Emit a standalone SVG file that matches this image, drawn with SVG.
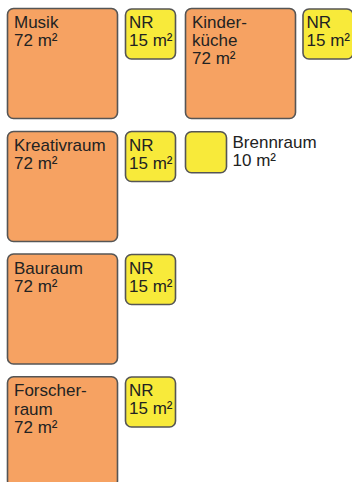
<svg xmlns="http://www.w3.org/2000/svg" width="352" height="482" viewBox="0 0 352 482">
  <style>
    .room { fill: #F6A262; stroke: #555555; stroke-width: 1.6; }
    .side { fill: #F8EA3A; stroke: #555555; stroke-width: 1.6; }
    text { font-family: "Liberation Sans", Arial, sans-serif; font-size: 17px; fill: #222222; }
  </style>
  <rect width="352" height="482" fill="#FFFFFF"/>

  <!-- Row 1 -->
  <g id="musik">
    <rect class="room" x="7.5" y="8.5" width="110" height="110" rx="6"/>
    <text x="14" y="27.7">Musik</text>
    <text x="14" y="45.7">72 m²</text>
  </g>
  <g id="nr-musik">
    <rect class="side" x="125.5" y="9" width="50" height="50" rx="6"/>
    <text x="129" y="27.7">NR</text>
    <text x="129" y="45.7">15 m²</text>
  </g>
  <g id="kinderkueche">
    <rect class="room" x="185.5" y="8.5" width="110" height="110" rx="6"/>
    <text x="192" y="27.7">Kinder-</text>
    <text x="192" y="45.9">küche</text>
    <text x="192" y="64.1">72 m²</text>
  </g>
  <g id="nr-kinderkueche">
    <rect class="side" x="303" y="9" width="50" height="50" rx="6"/>
    <text x="306.5" y="27.7">NR</text>
    <text x="306.5" y="45.7">15 m²</text>
  </g>

  <!-- Row 2 -->
  <g id="kreativraum">
    <rect class="room" x="7.5" y="131.5" width="110" height="110" rx="6"/>
    <text x="14" y="151.2">Kreativraum</text>
    <text x="14" y="169.2">72 m²</text>
  </g>
  <g id="nr-kreativraum">
    <rect class="side" x="125.5" y="131.5" width="50" height="50" rx="6"/>
    <text x="129" y="151.2">NR</text>
    <text x="129" y="169.2">15 m²</text>
  </g>
  <g id="brennraum">
    <rect class="side" x="185.5" y="131.8" width="41" height="41" rx="6"/>
    <text x="232.5" y="147.7">Brennraum</text>
    <text x="232.5" y="165.7">10 m²</text>
  </g>

  <!-- Row 3 -->
  <g id="bauraum">
    <rect class="room" x="7.5" y="254" width="110" height="110" rx="6"/>
    <text x="14" y="273.7">Bauraum</text>
    <text x="14" y="291.7">72 m²</text>
  </g>
  <g id="nr-bauraum">
    <rect class="side" x="125.5" y="254.5" width="50" height="50" rx="6"/>
    <text x="129" y="273.7">NR</text>
    <text x="129" y="291.7">15 m²</text>
  </g>

  <!-- Row 4 -->
  <g id="forscherraum">
    <rect class="room" x="7.5" y="376.7" width="110" height="110" rx="6"/>
    <text x="14" y="396.4">Forscher-</text>
    <text x="14" y="414.6">raum</text>
    <text x="14" y="432.8">72 m²</text>
  </g>
  <g id="nr-forscherraum">
    <rect class="side" x="125.5" y="377" width="50" height="50" rx="6"/>
    <text x="129" y="396.4">NR</text>
    <text x="129" y="414.4">15 m²</text>
  </g>

  <g id="connectors"/>
</svg>
